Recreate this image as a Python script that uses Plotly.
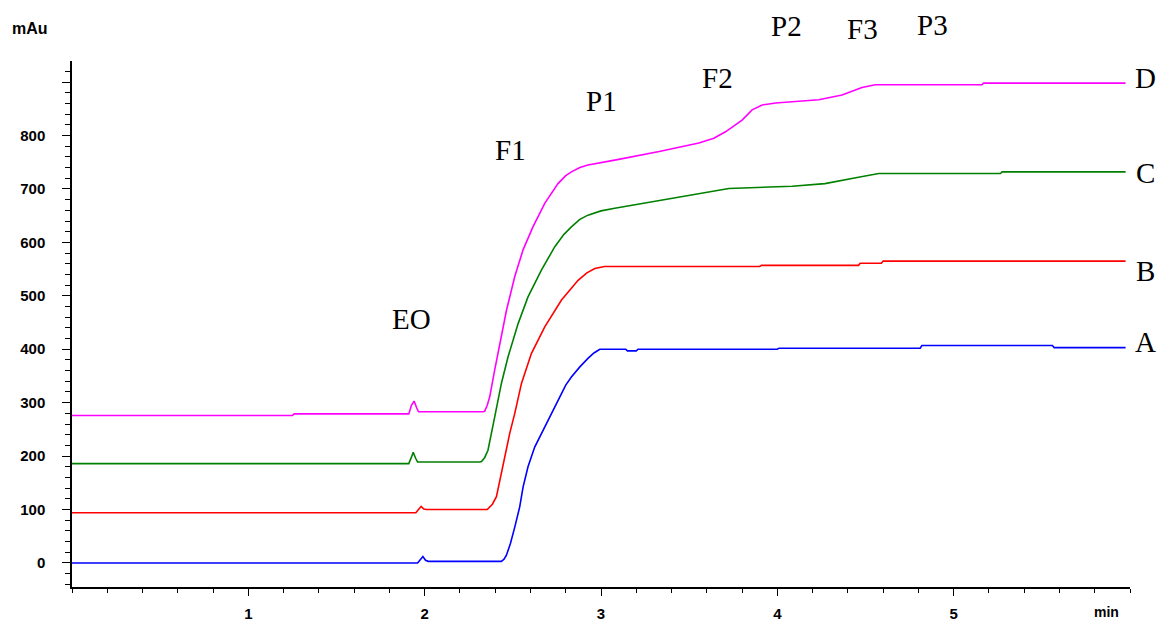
import plotly.graph_objects as go

# ---- data (time in min, absorbance in mAu) ----
a_x = [0, 1.96, 1.975, 1.99, 2.005, 2.02, 2.435, 2.45, 2.463, 2.486, 2.511, 2.539, 2.558, 2.586, 2.624, 2.671, 2.728,
       2.756, 2.80, 2.832, 2.88, 2.926, 2.96, 2.993, 3.14, 3.15, 3.20, 3.21, 4.0, 4.01, 4.81, 4.82, 5.56, 5.57, 5.975]
a_y = [0, 0, 6, 12, 5, 3, 3, 7, 14, 36, 67, 105, 142, 180, 217, 248, 286,
       305, 333, 348, 367, 383, 393, 400, 400, 397, 397, 400, 400, 402, 402, 407, 407, 403, 403]

b_x = [0, 1.95, 1.965, 1.98, 1.995, 2.01, 2.355, 2.369, 2.384, 2.407, 2.426, 2.454, 2.482, 2.511, 2.549, 2.605, 2.681,
       2.776, 2.870, 2.92, 2.965, 3.02, 3.9, 3.91, 4.46, 4.47, 4.59, 4.60, 5.975]
b_y = [94, 94, 100, 106, 101, 100, 100, 104, 110, 124, 155, 198, 242, 280, 336, 392, 442,
       492, 529, 543, 551, 555, 555, 557, 557, 561, 561, 565, 565]

c_x = [0, 1.91, 1.925, 1.935, 1.95, 1.96, 2.312, 2.322, 2.34, 2.359, 2.397, 2.435, 2.473, 2.53, 2.586, 2.662, 2.738,
       2.79, 2.832, 2.88, 2.926, 3.0, 3.078, 3.215, 3.33, 3.61, 3.725, 4.084, 4.27, 4.46, 4.575, 5.265, 5.275, 5.975]
c_y = [186, 186, 198, 207, 195, 189, 189, 190, 197, 211, 273, 336, 386, 448, 498, 548, 592,
       615, 629, 643, 651, 659, 664, 672, 679, 695, 701, 705, 710, 722, 729, 729, 732, 732]

d_x = [0, 1.25, 1.26, 1.91, 1.925, 1.94, 1.955, 1.965, 2.330, 2.340, 2.355, 2.369, 2.397, 2.426, 2.464, 2.511, 2.558,
       2.614, 2.681, 2.756, 2.80, 2.832, 2.88, 2.926, 3.0, 3.078, 3.33, 3.555, 3.64, 3.706, 3.80, 3.857, 3.914, 3.99,
       4.235, 4.367, 4.48, 4.556, 5.16, 5.17, 5.975]
d_y = [276, 276, 279, 279, 295, 303, 290, 283, 283, 284, 295, 311, 361, 411, 473, 536, 586,
       629, 673, 710, 725, 732, 740, 745, 750, 754, 770, 786, 795, 807, 829, 848, 857, 861,
       867, 876, 890, 895, 895, 898, 898]

series_names = ["A", "B", "C", "D"]
series_colors = ["#0000FF", "#FF0000", "#008000", "#FF00FF"]

y_tickvals = [0, 100, 200, 300, 400, 500, 600, 700, 800, 900]
y_ticktext = ["0", "100", "200", "300", "400", "500", "600", "700", "800", ""]
x_tickvals = [1, 2, 3, 4, 5]
x_ticktext = ["1", "2", "3", "4", "5"]

peak_labels = ["EO", "F1", "P1", "F2", "P2", "F3", "P3"]

# ---- figure ----
fig = go.Figure()
for xs, ys, name, col in zip([a_x, b_x, c_x, d_x], [a_y, b_y, c_y, d_y], series_names, series_colors):
    fig.add_trace(go.Scatter(x=xs, y=ys, mode="lines", name=name,
                             line=dict(color=col, width=1.6),
                             showlegend=False, hoverinfo="skip"))

tickfont = dict(family="Liberation Sans", size=15, color="black", weight="bold")

fig.update_layout(
    width=1158, height=621,
    margin=dict(l=72, r=28, t=61, b=34, autoexpand=False),
    paper_bgcolor="white", plot_bgcolor="white",
    xaxis=dict(range=[0, 6.0], showgrid=False, zeroline=False,
               showline=True, linecolor="black", linewidth=1.5,
               tickmode="array", tickvals=x_tickvals, ticktext=x_ticktext,
               ticks="outside", ticklen=7, tickwidth=1.2, tickcolor="black",
               tickfont=tickfont, ticklabelstandoff=5,
               minor=dict(dtick=0.2, tick0=0, ticks="outside", ticklen=4,
                          tickwidth=1.2, tickcolor="black", showgrid=False)),
    yaxis=dict(range=[-45, 939.5], showgrid=False, zeroline=False,
               showline=True, linecolor="black", linewidth=1.5,
               tickmode="array", tickvals=y_tickvals, ticktext=y_ticktext,
               ticks="outside", ticklen=8, tickwidth=1.2, tickcolor="black",
               tickfont=tickfont, ticklabelstandoff=14,
               minor=dict(dtick=20, tick0=0, ticks="outside", ticklen=5,
                          tickwidth=1.2, tickcolor="black", showgrid=False)),
)

serif = dict(family="Liberation Serif", size=29, color="black")

# pixel -> paper helpers for label placement
def px_x(px):
    return (px - 72) / 1058

def px_y(py):
    return (587 - py) / 526

label_pos = [(411, 319), (510, 150), (601, 101), (718, 78), (786, 26), (862, 29), (932, 25)]
for txt, (px, py) in zip(peak_labels, label_pos):
    fig.add_annotation(x=px_x(px), y=px_y(py), xref="paper", yref="paper", text=txt,
                       showarrow=False, font=serif, xanchor="center", yanchor="middle")

end_pos = [(1145, 342), (1145, 271), (1145, 173), (1145, 78)]
for txt, (px, py) in zip(series_names, end_pos):
    fig.add_annotation(x=px_x(px), y=px_y(py), xref="paper", yref="paper", text=txt,
                       showarrow=False, font=serif, xanchor="center", yanchor="middle")

fig.add_annotation(x=px_x(30), y=px_y(28), xref="paper", yref="paper", text="mAu",
                   showarrow=False, font=dict(family="Liberation Sans", size=16, color="black", weight="bold"),
                   xanchor="center", yanchor="middle")
fig.add_annotation(x=px_x(1106), y=px_y(612), xref="paper", yref="paper", text="min",
                   showarrow=False, font=dict(family="Liberation Sans", size=14, color="black", weight="bold"),
                   xanchor="center", yanchor="middle")

fig.write_html("out.html", config={"displayModeBar": False},
               post_script="document.body.style.margin='0';")
